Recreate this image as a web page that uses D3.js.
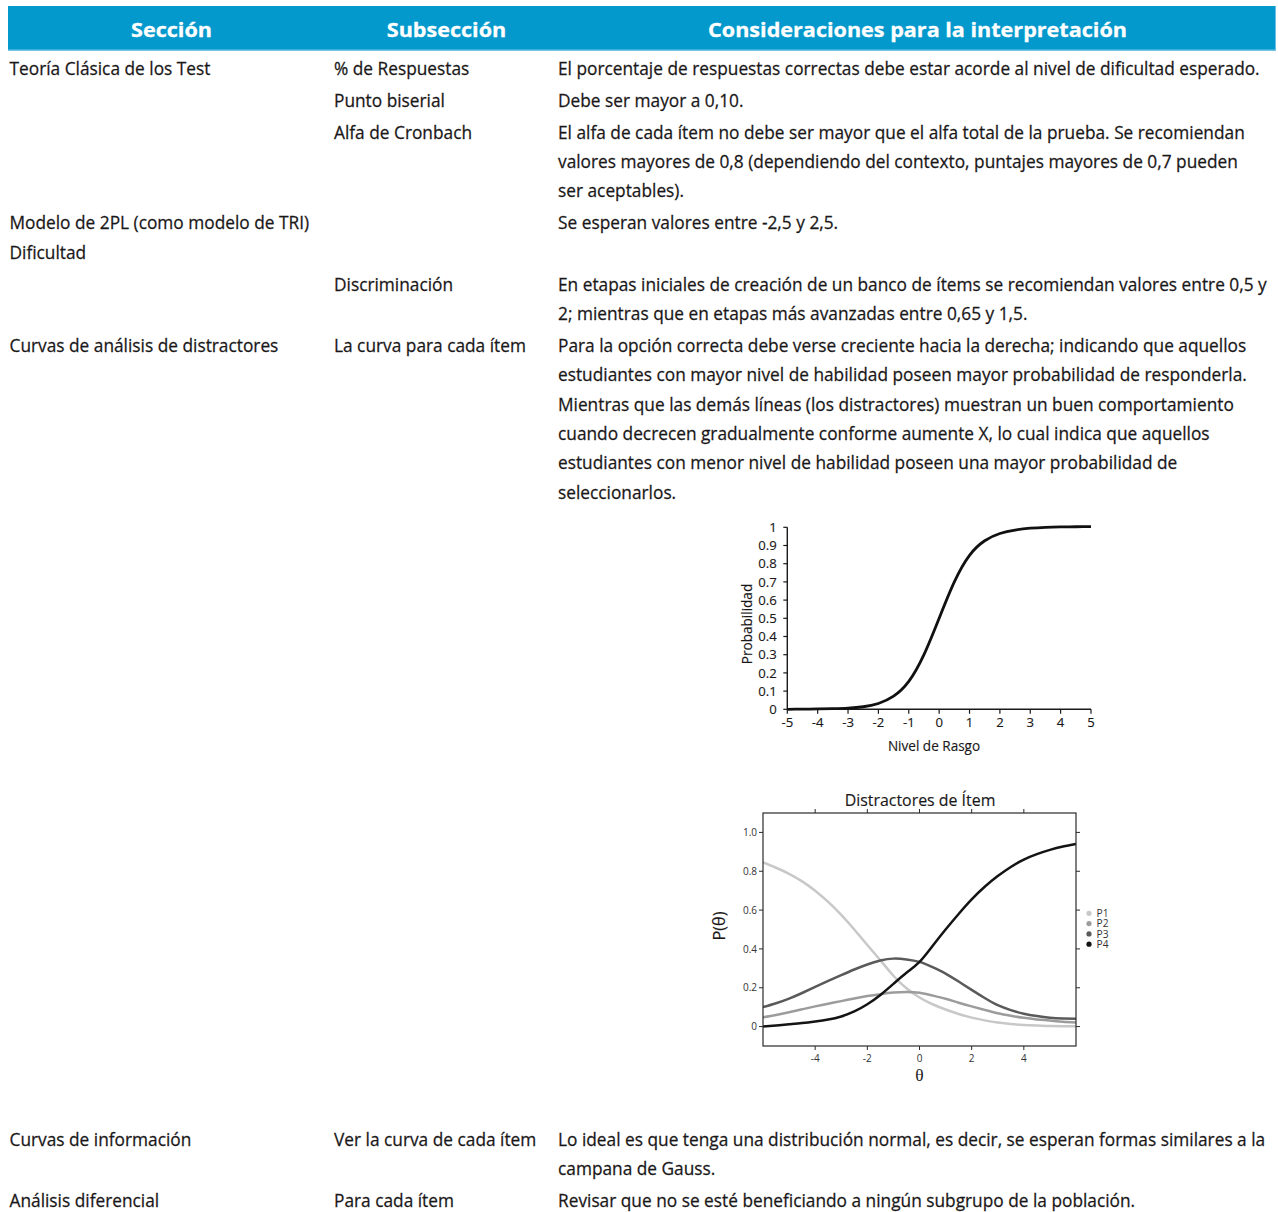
<!DOCTYPE html>
<html>
<head>
<meta charset="utf-8">
<script src="https://cdn.jsdelivr.net/npm/d3@7"></script>
<style>
  html, body { margin: 0; padding: 0; background: #ffffff; }
  svg { display: block; }
</style>
</head>
<body>
<svg id="chart" width="1278" height="1212"></svg>
<script>
// ---------------- DATA ----------------
const headers = ["Sección", "Subsección", "Consideraciones para la interpretación"];

const secciones = [
  ["Teoría Clásica de los Test"],
  [],
  [],
  ["Modelo de 2PL (como modelo de TRI)", "Dificultad"],
  [],
  ["Curvas de análisis de distractores"],
  ["Curvas de información"],
  ["Análisis diferencial"]
];
const subsecciones = [
  ["% de Respuestas"],
  ["Punto biserial"],
  ["Alfa de Cronbach"],
  [],
  ["Discriminación"],
  ["La curva para cada ítem"],
  ["Ver la curva de cada ítem"],
  ["Para cada ítem"]
];
const consideraciones = [
  ["El porcentaje de respuestas correctas debe estar acorde al nivel de dificultad esperado."],
  ["Debe ser mayor a 0,10."],
  ["El alfa de cada ítem no debe ser mayor que el alfa total de la prueba. Se recomiendan",
   "valores mayores de 0,8 (dependiendo del contexto, puntajes mayores de 0,7 pueden",
   "ser aceptables)."],
  ["Se esperan valores entre -2,5 y 2,5."],
  ["En etapas iniciales de creación de un banco de ítems se recomiendan valores entre 0,5 y",
   "2; mientras que en etapas más avanzadas entre 0,65 y 1,5."],
  ["Para la opción correcta debe verse creciente hacia la derecha; indicando que aquellos",
   "estudiantes con mayor nivel de habilidad poseen mayor probabilidad de responderla.",
   "Mientras que las demás líneas (los distractores) muestran un buen comportamiento",
   "cuando decrecen gradualmente conforme aumente X, lo cual indica que aquellos",
   "estudiantes con menor nivel de habilidad poseen una mayor probabilidad de",
   "seleccionarlos."],
  ["Lo ideal es que tenga una distribución normal, es decir, se esperan formas similares a la",
   "campana de Gauss."],
  ["Revisar que no se esté beneficiando a ningún subgrupo de la población."]
];

// Chart 1: item characteristic curve
const iccTheta = [-5, -4.5, -4, -3.5, -3, -2.5, -2, -1.5, -1, -0.5, 0, 0.5, 1, 1.5, 2, 2.5, 3, 3.5, 4, 4.5, 5];
const iccProb  = [0.000, 0.001, 0.002, 0.004, 0.007, 0.014, 0.032, 0.072, 0.153, 0.30, 0.50, 0.70, 0.846, 0.926, 0.966, 0.985, 0.995, 1.0, 1.002, 1.003, 1.004];
const iccXTicks = [-5, -4, -3, -2, -1, 0, 1, 2, 3, 4, 5];
const iccXLabels = ["-5", "-4", "-3", "-2", "-1", "0", "1", "2", "3", "4", "5"];
const iccYTicks = [0, 0.1, 0.2, 0.3, 0.4, 0.5, 0.6, 0.7, 0.8, 0.9, 1];
const iccYLabels = ["0", "0.1", "0.2", "0.3", "0.4", "0.5", "0.6", "0.7", "0.8", "0.9", "1"];
const iccXTitle = "Nivel de Rasgo";
const iccYTitle = "Probabilidad";

// Chart 2: distractor curves
const distTheta = [-6, -5.5, -5, -4.5, -4, -3.5, -3, -2.5, -2, -1.5, -1, -0.5, 0, 0.5, 1, 1.5, 2, 2.5, 3, 3.5, 4, 4.5, 5, 5.5, 6];
const distNames = ["P1", "P2", "P3", "P4"];
const distP1 = [0.845, 0.818, 0.787, 0.748, 0.70, 0.642, 0.575, 0.50, 0.42, 0.342, 0.262, 0.197, 0.15, 0.115, 0.088, 0.065, 0.046, 0.032, 0.021, 0.013, 0.008, 0.005, 0.003, 0.002, 0.002];
const distP2 = [0.048, 0.06, 0.074, 0.089, 0.104, 0.118, 0.131, 0.145, 0.157, 0.167, 0.175, 0.178, 0.174, 0.16, 0.143, 0.123, 0.104, 0.086, 0.069, 0.056, 0.045, 0.037, 0.031, 0.025, 0.021];
const distP3 = [0.10, 0.12, 0.144, 0.173, 0.204, 0.235, 0.265, 0.294, 0.32, 0.34, 0.35, 0.346, 0.333, 0.306, 0.273, 0.232, 0.189, 0.147, 0.11, 0.085, 0.066, 0.054, 0.046, 0.042, 0.04];
const distP4 = [0.0, 0.006, 0.012, 0.018, 0.026, 0.036, 0.052, 0.078, 0.115, 0.163, 0.22, 0.277, 0.333, 0.415, 0.50, 0.58, 0.655, 0.72, 0.775, 0.822, 0.86, 0.888, 0.91, 0.927, 0.94];
const distXTicks = [-4, -2, 0, 2, 4];
const distXLabels = ["-4", "-2", "0", "2", "4"];
const distYTicks = [0, 0.2, 0.4, 0.6, 0.8, 1.0];
const distYLabels = ["0", "0.2", "0.4", "0.6", "0.8", "1.0"];
const distTitle = "Distractores de Ítem";
const distXTitle = "θ";
const distYTitle = "P(θ)";

// ---------------- STYLE / LAYOUT ----------------
const FONT = "'Open Sans', 'Noto Sans', sans-serif";
const SERIF = "'Liberation Serif', 'DejaVu Serif', serif";
const TEXT = "#1a1718";
const BLUE = "#0399cd";
const distColors = ["#c8c8c8", "#9c9c9c", "#5a5a5a", "#141414"];

const svg = d3.select("#chart");

function measure(str, size, weight) {
  const t = svg.append("text").attr("font-family", FONT).attr("font-size", size)
    .attr("font-weight", weight || 400).text(str);
  const w = t.node().getComputedTextLength();
  t.remove();
  return w;
}

function label(g, x, y, str, o) {
  o = o || {};
  const sx = o.sx || 1;
  const rot = o.rotate ? ` rotate(${o.rotate})` : "";
  const fill = o.fill || TEXT;
  const t = g.append("text")
    .attr("transform", `translate(${x},${y})${rot} scale(${sx},1)`)
    .attr("text-anchor", o.anchor || "start")
    .attr("font-family", o.family || FONT)
    .attr("font-size", o.size || 17.6)
    .attr("font-weight", o.weight || 400)
    .attr("fill", fill)
    .text(str);
  if (o.stroke) t.attr("stroke", fill).attr("stroke-width", o.stroke);
  return t;
}

// body text size and horizontal condensing to mimic the original typeface
const BODY = 17.6;
const bodySX = 702 / measure(consideraciones[0][0], BODY, 400);
const HEAD = 20;
const headSX = 419 / measure(headers[2], HEAD, 700);

// ---------------- HEADER ----------------
svg.append("rect").attr("x", 8).attr("y", 6).attr("width", 1268).attr("height", 44.5).attr("fill", BLUE);
svg.append("line").attr("x1", 8).attr("x2", 1276).attr("y1", 50).attr("y2", 50).attr("stroke", "#6cc3e6").attr("stroke-width", 1);
svg.append("line").attr("x1", 1275.5).attr("x2", 1275.5).attr("y1", 6).attr("y2", 50.5).attr("stroke", "#6cc3e6").attr("stroke-width", 1);
const headCenters = [171.5, 446.5, 917.5];
headers.forEach((h, i) => label(svg, headCenters[i], 36.5, h, {size: HEAD, weight: 700, fill: "#ffffff", anchor: "middle", sx: headSX, stroke: 0.3}));

// ---------------- BODY ROWS ----------------
const colX = [9.5, 334, 558];
const lineH = 29.35, rowGap = 32;
let yb = 74.5;
const afterFigureY = 1146;
secciones.forEach((sec, i) => {
  const cols = [sec, subsecciones[i], consideraciones[i]];
  cols.forEach((lines, c) => lines.forEach((ln, k) => label(svg, colX[c], yb + k * lineH, ln, {size: BODY, sx: bodySX, stroke: 0.25})));
  const n = Math.max(sec.length, subsecciones[i].length, consideraciones[i].length);
  if (i === 5) yb = afterFigureY; else yb = yb + (n - 1) * lineH + rowGap;
});

// ---------------- CHART 1 ----------------
const g1 = svg.append("g");
const x1 = d3.scaleLinear().domain([-5, 5]).range([787.3, 1091]);
const y1 = d3.scaleLinear().domain([0, 1]).range([709.3, 527.3]);
const AX = "#1a1a1a";
g1.append("line").attr("x1", x1(-5)).attr("x2", x1(-5)).attr("y1", y1(1)).attr("y2", y1(0)).attr("stroke", AX).attr("stroke-width", 1.4);
g1.append("line").attr("x1", x1(-5)).attr("x2", x1(5)).attr("y1", y1(0)).attr("y2", y1(0)).attr("stroke", AX).attr("stroke-width", 1.4);
const TICK1 = 13.4;
iccYTicks.forEach((v, i) => {
  g1.append("line").attr("x1", x1(-5) - 4).attr("x2", x1(-5)).attr("y1", y1(v)).attr("y2", y1(v)).attr("stroke", AX).attr("stroke-width", 1.2);
  label(g1, x1(-5) - 10.5, y1(v) + 4.7, iccYLabels[i], {size: TICK1, anchor: "end", sx: bodySX, stroke: 0.15});
});
iccXTicks.forEach((v, i) => {
  g1.append("line").attr("x1", x1(v)).attr("x2", x1(v)).attr("y1", y1(0)).attr("y2", y1(0) + 4.5).attr("stroke", AX).attr("stroke-width", 1.2);
  label(g1, x1(v), 727, iccXLabels[i], {size: TICK1, anchor: "middle", sx: bodySX, stroke: 0.15});
});
label(g1, 934, 750.5, iccXTitle, {size: 13.8, anchor: "middle", sx: bodySX, stroke: 0.15});
label(g1, 751.5, 624, iccYTitle, {size: 13.8, anchor: "middle", rotate: -90, sx: bodySX, stroke: 0.15});
const line1 = d3.line().x(d => x1(d[0])).y(d => y1(d[1])).curve(d3.curveNatural);
g1.append("path").datum(iccTheta.map((t, i) => [t, iccProb[i]])).attr("d", line1)
  .attr("fill", "none").attr("stroke", "#111").attr("stroke-width", 2.8).attr("stroke-linejoin", "round");

// ---------------- CHART 2 ----------------
const g2 = svg.append("g");
const x2 = d3.scaleLinear().domain([-6, 6]).range([763, 1076]);
const y2 = d3.scaleLinear().domain([-0.1, 1.1]).range([1046, 813]);
const FR = "#2a2a2a";
svg.append("defs").append("clipPath").attr("id", "clip2").append("rect")
  .attr("x", x2(-6)).attr("y", y2(1.1)).attr("width", x2(6) - x2(-6)).attr("height", y2(-0.1) - y2(1.1));
const series = [distP1, distP2, distP3, distP4];
const line2 = d3.line().x(d => x2(d[0])).y(d => y2(d[1])).curve(d3.curveNatural);
const curves = g2.append("g").attr("clip-path", "url(#clip2)");
series.forEach((s, k) => {
  curves.append("path").datum(distTheta.map((t, i) => [t, s[i]])).attr("d", line2)
    .attr("fill", "none").attr("stroke", distColors[k]).attr("stroke-width", 2.5).attr("stroke-linejoin", "round");
});
g2.append("rect").attr("x", x2(-6)).attr("y", y2(1.1)).attr("width", x2(6) - x2(-6)).attr("height", y2(-0.1) - y2(1.1))
  .attr("fill", "none").attr("stroke", FR).attr("stroke-width", 1.2);
const TICK2 = 10.2;
distYTicks.forEach((v, i) => {
  g2.append("line").attr("x1", x2(-6) - 4).attr("x2", x2(-6)).attr("y1", y2(v)).attr("y2", y2(v)).attr("stroke", FR).attr("stroke-width", 1);
  g2.append("line").attr("x1", x2(6)).attr("x2", x2(6) + 4).attr("y1", y2(v)).attr("y2", y2(v)).attr("stroke", FR).attr("stroke-width", 1);
  label(g2, x2(-6) - 6, y2(v) + 3.6, distYLabels[i], {size: TICK2, anchor: "end", sx: bodySX, fill: "#333"});
});
distXTicks.forEach((v, i) => {
  g2.append("line").attr("x1", x2(v)).attr("x2", x2(v)).attr("y1", y2(1.1) - 4).attr("y2", y2(1.1)).attr("stroke", FR).attr("stroke-width", 1);
  g2.append("line").attr("x1", x2(v)).attr("x2", x2(v)).attr("y1", y2(-0.1)).attr("y2", y2(-0.1) + 4).attr("stroke", FR).attr("stroke-width", 1);
  label(g2, x2(v), 1062, distXLabels[i], {size: TICK2, anchor: "middle", sx: bodySX, fill: "#333"});
});
label(g2, 920, 806, distTitle, {size: 16.2, anchor: "middle", sx: bodySX, stroke: 0.15});
label(g2, 725, 926, distYTitle, {size: 16.5, anchor: "middle", rotate: -90, sx: bodySX, stroke: 0.15});
label(g2, 919.5, 1081, distXTitle, {size: 17.5, anchor: "middle", family: SERIF, fill: "#222"});
distNames.forEach((nm, k) => {
  const cy = 913.3 + k * 10.3;
  g2.append("circle").attr("cx", 1089).attr("cy", cy).attr("r", 2.6).attr("fill", distColors[k]);
  label(g2, 1096.5, cy + 3.8, nm, {size: 10.4, sx: bodySX, fill: "#333"});
});
</script>
</body>
</html>
